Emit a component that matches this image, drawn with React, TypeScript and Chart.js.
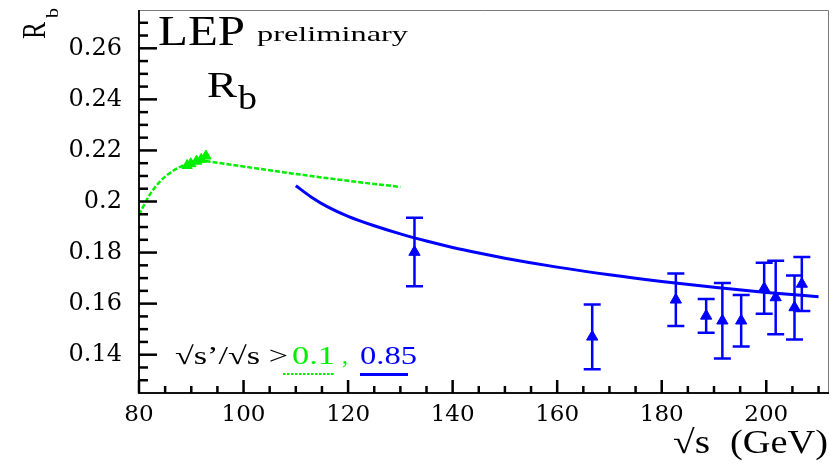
import React, { useEffect, useRef } from 'react';
import { Chart, registerables } from 'chart.js';

Chart.register(...registerables);

// Axis ticks
const X_TICKS = [80, 100, 120, 140, 160, 180, 200];
const Y_TICKS = [0.14, 0.16, 0.18, 0.2, 0.22, 0.24, 0.26];
const Y_TICK_LABELS = ['0.14', '0.16', '0.18', '0.2', '0.22', '0.24', '0.26'];

// Standard Model prediction, sqrt(s')/sqrt(s) > 0.1
const SM_LOOSE_ECM = [80, 82, 84, 86, 88, 90, 92, 94, 100, 110, 120, 130];
const SM_LOOSE_RB = [0.1948, 0.2025, 0.2078, 0.2113, 0.2137, 0.2152, 0.216, 0.2155, 0.2137, 0.2108, 0.2081, 0.2057];

// Standard Model prediction, sqrt(s')/sqrt(s) > 0.85
const SM_TIGHT_ECM = [110, 113, 116, 120, 125, 130, 135, 140, 145, 150, 160, 170, 180, 190, 200, 210];
const SM_TIGHT_RB = [0.2062, 0.2017, 0.198, 0.1942, 0.1905, 0.1873, 0.1845, 0.182, 0.1798, 0.1778, 0.1743, 0.1713, 0.1687, 0.1664, 0.1644, 0.1627];

// LEP1 measurements around the Z pole
const LEP1_ECM = [89.2, 89.9, 91.0, 91.9, 92.8];
const LEP1_RB = [0.2141, 0.2148, 0.2158, 0.2165, 0.2178];

// LEP2 measurements
const LEP2_ECM = [132.7, 166.7, 182.7, 188.5, 191.6, 195.2, 199.6, 201.8, 205.4, 206.8];
const LEP2_RB = [0.1802, 0.147, 0.1615, 0.1552, 0.1533, 0.1533, 0.166, 0.1624, 0.1585, 0.1677];
const LEP2_ERR = [0.0134, 0.0127, 0.0103, 0.0066, 0.0148, 0.0101, 0.01, 0.0144, 0.0125, 0.0106];

// Minor tick positions
const X_MINOR = [85, 90, 95, 105, 110, 115, 125, 130, 135, 145, 150, 155, 165, 170, 175, 185, 190, 195, 205, 210];
const Y_MINOR = [0.13, 0.135, 0.145, 0.15, 0.155, 0.165, 0.17, 0.175, 0.185, 0.19, 0.195, 0.205, 0.21, 0.215, 0.225, 0.23, 0.235, 0.245, 0.25, 0.255, 0.265, 0.27];

const GREEN = '#00ee00';
const BLUE = '#0000ff';
const SERIF = '"Liberation Serif", "Times New Roman", serif';

function fitText(
  ctx: CanvasRenderingContext2D,
  text: string,
  x: number,
  y: number,
  size: number,
  width: number,
  color: string,
) {
  ctx.save();
  ctx.font = `${size}px ${SERIF}`;
  const w = ctx.measureText(text).width;
  ctx.translate(x, y);
  ctx.scale(width / w, 1);
  ctx.fillStyle = color;
  ctx.textBaseline = 'alphabetic';
  ctx.textAlign = 'left';
  ctx.fillText(text, 0, 0);
  ctx.restore();
}

const framePlugin = {
  id: 'rootFrame',
  beforeDatasetsDraw(chart: any) {
    const ctx: CanvasRenderingContext2D = chart.ctx;
    const xs = chart.scales.x;
    const ys = chart.scales.y;

    // error bars of the LEP2 points
    ctx.save();
    ctx.setLineDash([]);
    ctx.strokeStyle = BLUE;
    ctx.lineWidth = 2.5;
    LEP2_ECM.forEach((e, i) => {
      const px = xs.getPixelForValue(e);
      const top = ys.getPixelForValue(LEP2_RB[i] + LEP2_ERR[i]);
      const bot = ys.getPixelForValue(LEP2_RB[i] - LEP2_ERR[i]);
      ctx.beginPath();
      ctx.moveTo(px, top);
      ctx.lineTo(px, bot);
      ctx.moveTo(px - 8.5, top);
      ctx.lineTo(px + 8.5, top);
      ctx.moveTo(px - 8.5, bot);
      ctx.lineTo(px + 8.5, bot);
      ctx.stroke();
    });
    ctx.restore();
  },
  afterDraw(chart: any) {
    const ctx: CanvasRenderingContext2D = chart.ctx;
    const a = chart.chartArea;
    const xs = chart.scales.x;
    const ys = chart.scales.y;

    ctx.save();
    ctx.setLineDash([]);
    // frame
    ctx.strokeStyle = '#7a7a7a';
    ctx.lineWidth = 1;
    ctx.beginPath();
    ctx.moveTo(a.left, a.top + 0.5);
    ctx.lineTo(a.right - 0.5, a.top + 0.5);
    ctx.lineTo(a.right - 0.5, a.bottom);
    ctx.stroke();
    ctx.strokeStyle = '#111';
    ctx.lineWidth = 2;
    ctx.beginPath();
    ctx.moveTo(a.left, a.top);
    ctx.lineTo(a.left, a.bottom);
    ctx.lineTo(a.right, a.bottom);
    ctx.stroke();

    // inward ticks: long at labelled values, short in between
    ctx.strokeStyle = '#000';
    ctx.lineWidth = 2.5;
    Y_TICKS.forEach((v) => {
      const py = ys.getPixelForValue(v);
      ctx.beginPath();
      ctx.moveTo(a.left, py);
      ctx.lineTo(a.left + 18, py);
      ctx.stroke();
    });
    Y_MINOR.forEach((v) => {
      const py = ys.getPixelForValue(v);
      ctx.beginPath();
      ctx.moveTo(a.left, py);
      ctx.lineTo(a.left + 9, py);
      ctx.stroke();
    });
    X_TICKS.forEach((v) => {
      const px = xs.getPixelForValue(v);
      ctx.beginPath();
      ctx.moveTo(px, a.bottom);
      ctx.lineTo(px, a.bottom - 13);
      ctx.stroke();
    });
    X_MINOR.forEach((v) => {
      const px = xs.getPixelForValue(v);
      ctx.beginPath();
      ctx.moveTo(px, a.bottom);
      ctx.lineTo(px, a.bottom - 7);
      ctx.stroke();
    });
    ctx.restore();

    // header texts
    fitText(ctx, 'LEP', 158, 45, 42, 87, '#000');
    fitText(ctx, 'preliminary', 257, 41, 21, 151, '#000');
    fitText(ctx, 'R', 207, 97, 36, 30, '#000');
    fitText(ctx, 'b', 238, 109, 34, 19, '#000');

    // selection labels
    fitText(ctx, '\u221As\u2019/\u221As >', 175, 364, 25, 113, '#000');
    fitText(ctx, '0.1', 292, 364, 25, 43, GREEN);
    fitText(ctx, ',', 342, 364, 25, 6, GREEN);
    fitText(ctx, '0.85', 360, 364, 25, 57, BLUE);
    ctx.save();
    ctx.fillStyle = GREEN;
    for (let x = 283; x < 333; x += 4) ctx.fillRect(x, 373, 2.5, 2);
    ctx.fillStyle = BLUE;
    ctx.fillRect(360, 373, 48, 3);
    ctx.restore();

    // x axis title
    fitText(ctx, '\u221As', 673, 453, 33, 37, '#000');
    fitText(ctx, '(GeV)', 730, 453, 33, 98, '#000');

    // y axis title, rotated
    ctx.save();
    ctx.font = `24px ${SERIF}`;
    ctx.fillStyle = '#000';
    const wr = ctx.measureText('R').width;
    ctx.translate(45, 39);
    ctx.rotate(-Math.PI / 2);
    ctx.scale(17 / wr, 23 / (0.662 * 24));
    ctx.fillText('R', 0, 0);
    ctx.restore();
    ctx.save();
    ctx.font = `16px ${SERIF}`;
    ctx.fillStyle = '#000';
    const wb = ctx.measureText('b').width;
    ctx.translate(58, 18);
    ctx.rotate(-Math.PI / 2);
    ctx.scale(10 / wb, 11 / (0.683 * 16));
    ctx.fillText('b', 0, 0);
    ctx.restore();
  },
};

export default function App() {
  const ref = useRef<HTMLCanvasElement | null>(null);

  useEffect(() => {
    if (!ref.current) return;
    const toPts = (xs: number[], ys: number[]) => xs.map((x, i) => ({ x, y: ys[i] }));
    const chart = new Chart(ref.current, {
      type: 'scatter',
      data: {
        datasets: [
          {
            data: toPts(SM_LOOSE_ECM, SM_LOOSE_RB),
            showLine: true,
            borderColor: GREEN,
            borderWidth: 2.5,
            borderDash: [5, 2],
            pointRadius: 0,
            cubicInterpolationMode: 'monotone',
          },
          {
            data: toPts(SM_TIGHT_ECM, SM_TIGHT_RB),
            showLine: true,
            borderColor: BLUE,
            borderWidth: 3,
            pointRadius: 0,
            cubicInterpolationMode: 'monotone',
          },
          {
            data: toPts(LEP1_ECM, LEP1_RB),
            pointStyle: 'triangle',
            pointRadius: 6,
            backgroundColor: GREEN,
            borderColor: GREEN,
            borderWidth: 1,
          },
          {
            data: toPts(LEP2_ECM, LEP2_RB),
            pointStyle: 'triangle',
            pointRadius: 6.5,
            backgroundColor: BLUE,
            borderColor: BLUE,
            borderWidth: 1,
          },
        ],
      },
      options: {
        responsive: false,
        animation: false,
        layout: { padding: { top: 10, right: 10, left: 0, bottom: 0 } },
        plugins: { legend: { display: false }, tooltip: { enabled: false } },
        scales: {
          x: {
            type: 'linear',
            min: 80,
            max: 212,
            afterBuildTicks: (s: any) => {
              s.ticks = X_TICKS.map((v) => ({ value: v }));
            },
            afterFit: (s: any) => {
              s.height = 71;
              s.paddingLeft = 0;
              s.paddingRight = 0;
            },
            grid: { display: false, drawTicks: false },
            border: { display: false },
            ticks: {
              autoSkip: false,
              maxRotation: 0,
              padding: 8,
              color: '#000',
              font: { family: '"DejaVu Serif"', size: 23 },
              callback: (v: any) => String(v),
            },
          },
          y: {
            type: 'linear',
            min: 0.125,
            max: 0.275,
            afterBuildTicks: (s: any) => {
              s.ticks = Y_TICKS.map((v) => ({ value: v }));
            },
            afterFit: (s: any) => {
              s.width = 139;
              s.paddingTop = 0;
              s.paddingBottom = 0;
            },
            grid: { display: false, drawTicks: false },
            border: { display: false },
            ticks: {
              autoSkip: false,
              padding: 17,
              color: '#000',
              font: { family: '"DejaVu Serif"', size: 24 },
              callback: (v: any) => {
                const i = Y_TICKS.findIndex((t) => Math.abs(t - Number(v)) < 1e-6);
                return i >= 0 ? Y_TICK_LABELS[i] : '';
              },
            },
          },
        },
      },
      plugins: [framePlugin],
    } as any);
    return () => chart.destroy();
  }, []);

  return (
    <div style={{ position: 'absolute', left: 0, top: 0, width: 839, height: 464, background: '#fff' }}>
      <canvas ref={ref} width={839} height={464} />
    </div>
  );
}
